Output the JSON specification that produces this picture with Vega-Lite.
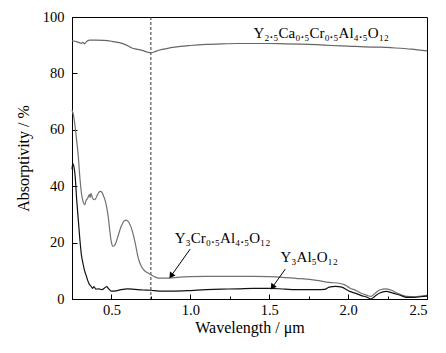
{
  "$schema": "https://vega.github.io/schema/vega-lite/v6.json",
  "width": 355,
  "height": 282,
  "autosize": {"type": "none"},
  "padding": {"left": 72, "top": 17, "right": 19, "bottom": 54},
  "background": "white",
  "config": {
    "view": {"stroke": "#000", "strokeWidth": 1},
    "font": "Liberation Serif",
    "axis": {
      "grid": false,
      "domainColor": "#000",
      "tickColor": "#000",
      "labelColor": "#000",
      "titleColor": "#000",
      "labelFont": "Liberation Serif",
      "titleFont": "Liberation Serif",
      "labelFontSize": 14.5,
      "titleFontSize": 16,
      "titleFontWeight": "normal"
    }
  },
  "datasets": {
    "spectra": [
      {"wl": 0.25, "a": 91.5, "s": "Ca"}, {"wl": 0.27, "a": 91.4, "s": "Ca"}, {"wl": 0.29, "a": 91.0, "s": "Ca"}, {"wl": 0.31, "a": 90.7, "s": "Ca"}, {"wl": 0.32, "a": 91.0, "s": "Ca"}, {"wl": 0.33, "a": 90.5, "s": "Ca"}, {"wl": 0.34, "a": 91.2, "s": "Ca"}, {"wl": 0.36, "a": 91.8, "s": "Ca"}, {"wl": 0.40, "a": 91.8, "s": "Ca"}, {"wl": 0.45, "a": 91.7, "s": "Ca"}, {"wl": 0.50, "a": 91.4, "s": "Ca"}, {"wl": 0.55, "a": 90.9, "s": "Ca"}, {"wl": 0.58, "a": 90.4, "s": "Ca"}, {"wl": 0.61, "a": 89.6, "s": "Ca"}, {"wl": 0.63, "a": 89.0, "s": "Ca"}, {"wl": 0.66, "a": 88.6, "s": "Ca"}, {"wl": 0.70, "a": 88.1, "s": "Ca"}, {"wl": 0.73, "a": 87.5, "s": "Ca"}, {"wl": 0.75, "a": 87.3, "s": "Ca"}, {"wl": 0.77, "a": 87.6, "s": "Ca"}, {"wl": 0.80, "a": 88.2, "s": "Ca"}, {"wl": 0.85, "a": 88.8, "s": "Ca"}, {"wl": 0.90, "a": 89.3, "s": "Ca"}, {"wl": 1.0, "a": 89.9, "s": "Ca"}, {"wl": 1.1, "a": 90.3, "s": "Ca"}, {"wl": 1.2, "a": 90.5, "s": "Ca"}, {"wl": 1.3, "a": 90.6, "s": "Ca"}, {"wl": 1.4, "a": 90.6, "s": "Ca"}, {"wl": 1.5, "a": 90.6, "s": "Ca"}, {"wl": 1.6, "a": 90.5, "s": "Ca"}, {"wl": 1.7, "a": 90.4, "s": "Ca"}, {"wl": 1.8, "a": 90.2, "s": "Ca"}, {"wl": 1.9, "a": 89.9, "s": "Ca"}, {"wl": 2.0, "a": 89.7, "s": "Ca"}, {"wl": 2.1, "a": 89.4, "s": "Ca"}, {"wl": 2.2, "a": 89.3, "s": "Ca"}, {"wl": 2.3, "a": 89.0, "s": "Ca"}, {"wl": 2.4, "a": 88.6, "s": "Ca"}, {"wl": 2.5, "a": 88.0, "s": "Ca"},

      {"wl": 0.25, "a": 67, "s": "Cr"}, {"wl": 0.26, "a": 65, "s": "Cr"}, {"wl": 0.27, "a": 61, "s": "Cr"}, {"wl": 0.28, "a": 56, "s": "Cr"}, {"wl": 0.29, "a": 50.5, "s": "Cr"}, {"wl": 0.30, "a": 43, "s": "Cr"}, {"wl": 0.31, "a": 37.5, "s": "Cr"}, {"wl": 0.32, "a": 34.5, "s": "Cr"}, {"wl": 0.33, "a": 33.4, "s": "Cr"}, {"wl": 0.34, "a": 35, "s": "Cr"}, {"wl": 0.35, "a": 35.8, "s": "Cr"}, {"wl": 0.36, "a": 37, "s": "Cr"}, {"wl": 0.365, "a": 36, "s": "Cr"}, {"wl": 0.37, "a": 37.5, "s": "Cr"}, {"wl": 0.38, "a": 35.8, "s": "Cr"}, {"wl": 0.39, "a": 35.2, "s": "Cr"}, {"wl": 0.40, "a": 35.6, "s": "Cr"}, {"wl": 0.41, "a": 36.8, "s": "Cr"}, {"wl": 0.42, "a": 37.8, "s": "Cr"}, {"wl": 0.43, "a": 38.2, "s": "Cr"}, {"wl": 0.44, "a": 37.8, "s": "Cr"}, {"wl": 0.45, "a": 36.5, "s": "Cr"}, {"wl": 0.46, "a": 35, "s": "Cr"}, {"wl": 0.47, "a": 32.5, "s": "Cr"}, {"wl": 0.48, "a": 29, "s": "Cr"}, {"wl": 0.49, "a": 24, "s": "Cr"}, {"wl": 0.50, "a": 20, "s": "Cr"}, {"wl": 0.51, "a": 18.7, "s": "Cr"}, {"wl": 0.52, "a": 19, "s": "Cr"}, {"wl": 0.54, "a": 22, "s": "Cr"}, {"wl": 0.56, "a": 25.5, "s": "Cr"}, {"wl": 0.58, "a": 27.6, "s": "Cr"}, {"wl": 0.595, "a": 28, "s": "Cr"}, {"wl": 0.61, "a": 27.2, "s": "Cr"}, {"wl": 0.63, "a": 24.5, "s": "Cr"}, {"wl": 0.65, "a": 20, "s": "Cr"}, {"wl": 0.67, "a": 14.5, "s": "Cr"}, {"wl": 0.69, "a": 11.5, "s": "Cr"}, {"wl": 0.71, "a": 10, "s": "Cr"}, {"wl": 0.73, "a": 9.3, "s": "Cr"}, {"wl": 0.75, "a": 8.6, "s": "Cr"}, {"wl": 0.77, "a": 8.0, "s": "Cr"}, {"wl": 0.80, "a": 7.4, "s": "Cr"}, {"wl": 0.85, "a": 7.4, "s": "Cr"}, {"wl": 0.90, "a": 7.6, "s": "Cr"}, {"wl": 1.0, "a": 7.9, "s": "Cr"}, {"wl": 1.1, "a": 8.0, "s": "Cr"}, {"wl": 1.2, "a": 8.0, "s": "Cr"}, {"wl": 1.3, "a": 8.0, "s": "Cr"}, {"wl": 1.4, "a": 8.0, "s": "Cr"}, {"wl": 1.5, "a": 7.9, "s": "Cr"}, {"wl": 1.6, "a": 7.6, "s": "Cr"}, {"wl": 1.7, "a": 7.2, "s": "Cr"}, {"wl": 1.8, "a": 6.6, "s": "Cr"}, {"wl": 1.88, "a": 5.9, "s": "Cr"}, {"wl": 1.95, "a": 5.5, "s": "Cr"}, {"wl": 1.98, "a": 5.0, "s": "Cr"}, {"wl": 2.01, "a": 3.9, "s": "Cr"}, {"wl": 2.05, "a": 3.0, "s": "Cr"}, {"wl": 2.08, "a": 2.1, "s": "Cr"}, {"wl": 2.12, "a": 1.3, "s": "Cr"}, {"wl": 2.145, "a": 0.9, "s": "Cr"}, {"wl": 2.17, "a": 2.0, "s": "Cr"}, {"wl": 2.2, "a": 3.2, "s": "Cr"}, {"wl": 2.24, "a": 3.6, "s": "Cr"}, {"wl": 2.28, "a": 3.0, "s": "Cr"}, {"wl": 2.31, "a": 2.1, "s": "Cr"}, {"wl": 2.34, "a": 1.4, "s": "Cr"}, {"wl": 2.37, "a": 0.9, "s": "Cr"}, {"wl": 2.42, "a": 0.8, "s": "Cr"}, {"wl": 2.46, "a": 1.0, "s": "Cr"}, {"wl": 2.5, "a": 1.3, "s": "Cr"},

      {"wl": 0.25, "a": 46, "s": "YAG"}, {"wl": 0.255, "a": 48, "s": "YAG"}, {"wl": 0.26, "a": 47.5, "s": "YAG"}, {"wl": 0.27, "a": 43.5, "s": "YAG"}, {"wl": 0.28, "a": 35, "s": "YAG"}, {"wl": 0.29, "a": 28, "s": "YAG"}, {"wl": 0.30, "a": 21, "s": "YAG"}, {"wl": 0.31, "a": 15.5, "s": "YAG"}, {"wl": 0.32, "a": 12.5, "s": "YAG"}, {"wl": 0.33, "a": 10, "s": "YAG"}, {"wl": 0.34, "a": 8.3, "s": "YAG"}, {"wl": 0.35, "a": 6.5, "s": "YAG"}, {"wl": 0.36, "a": 5.2, "s": "YAG"}, {"wl": 0.37, "a": 4.6, "s": "YAG"}, {"wl": 0.38, "a": 3.8, "s": "YAG"}, {"wl": 0.39, "a": 4.4, "s": "YAG"}, {"wl": 0.40, "a": 3.5, "s": "YAG"}, {"wl": 0.42, "a": 3.6, "s": "YAG"}, {"wl": 0.44, "a": 3.3, "s": "YAG"}, {"wl": 0.46, "a": 4.1, "s": "YAG"}, {"wl": 0.47, "a": 4.4, "s": "YAG"}, {"wl": 0.48, "a": 3.8, "s": "YAG"}, {"wl": 0.50, "a": 2.8, "s": "YAG"}, {"wl": 0.53, "a": 2.9, "s": "YAG"}, {"wl": 0.56, "a": 3.3, "s": "YAG"}, {"wl": 0.60, "a": 3.6, "s": "YAG"}, {"wl": 0.65, "a": 3.4, "s": "YAG"}, {"wl": 0.70, "a": 3.2, "s": "YAG"}, {"wl": 0.75, "a": 3.1, "s": "YAG"}, {"wl": 0.80, "a": 2.8, "s": "YAG"}, {"wl": 0.90, "a": 2.8, "s": "YAG"}, {"wl": 1.0, "a": 3.0, "s": "YAG"}, {"wl": 1.1, "a": 3.3, "s": "YAG"}, {"wl": 1.2, "a": 3.5, "s": "YAG"}, {"wl": 1.3, "a": 3.6, "s": "YAG"}, {"wl": 1.4, "a": 3.8, "s": "YAG"}, {"wl": 1.5, "a": 3.8, "s": "YAG"}, {"wl": 1.6, "a": 3.5, "s": "YAG"}, {"wl": 1.7, "a": 3.3, "s": "YAG"}, {"wl": 1.8, "a": 3.3, "s": "YAG"}, {"wl": 1.85, "a": 3.4, "s": "YAG"}, {"wl": 1.88, "a": 4.2, "s": "YAG"}, {"wl": 1.92, "a": 4.5, "s": "YAG"}, {"wl": 1.96, "a": 4.2, "s": "YAG"}, {"wl": 1.99, "a": 3.3, "s": "YAG"}, {"wl": 2.01, "a": 2.7, "s": "YAG"}, {"wl": 2.05, "a": 2.0, "s": "YAG"}, {"wl": 2.08, "a": 1.3, "s": "YAG"}, {"wl": 2.12, "a": 0.6, "s": "YAG"}, {"wl": 2.145, "a": 0.0, "s": "YAG"}, {"wl": 2.17, "a": 1.0, "s": "YAG"}, {"wl": 2.2, "a": 2.1, "s": "YAG"}, {"wl": 2.24, "a": 2.7, "s": "YAG"}, {"wl": 2.28, "a": 2.2, "s": "YAG"}, {"wl": 2.31, "a": 1.7, "s": "YAG"}, {"wl": 2.34, "a": 1.1, "s": "YAG"}, {"wl": 2.37, "a": 0.6, "s": "YAG"}, {"wl": 2.42, "a": 0.6, "s": "YAG"}, {"wl": 2.46, "a": 0.8, "s": "YAG"}, {"wl": 2.5, "a": 1.0, "s": "YAG"}
    ],
    "labels": [
      {"wl": 1.83, "a": 94.3, "label": "Y₂.₅Ca₀.₅Cr₀.₅Al₄.₅O₁₂"},
      {"wl": 1.205, "a": 21.7, "label": "Y₃Cr₀.₅Al₄.₅O₁₂"},
      {"wl": 1.754, "a": 15, "label": "Y₃Al₅O₁₂"}
    ],
    "arrows": [
      {"wl": 0.999, "a": 17.7, "wl2": 0.878, "a2": 8.2},
      {"wl": 1.602, "a": 10.6, "wl2": 1.52, "a2": 4.2}
    ]
  },
  "layer": [
    {
      "data": {"values": [{"wl": 0.75}]},
      "mark": {"type": "rule", "strokeDash": [3, 2], "stroke": "#333", "strokeWidth": 1},
      "encoding": {
        "x": {"field": "wl", "type": "quantitative", "scale": {"domain": [0.25, 2.5]}}
      }
    },
    {
      "data": {"name": "spectra"},
      "mark": {"type": "line", "strokeWidth": 1.2, "interpolate": "monotone"},
      "encoding": {
        "x": {
          "field": "wl", "type": "quantitative",
          "scale": {"domain": [0.25, 2.5], "nice": false, "zero": false},
          "axis": {
            "title": "Wavelength / μm",
            "values": [0.5, 0.75, 1.0, 1.25, 1.5, 1.75, 2.0, 2.25, 2.5],
            "labelExpr": "datum.value % 0.5 === 0 ? format(datum.value, '.1f') : ''",
            "tickSize": {"condition": {"test": "datum.value % 0.5 === 0", "value": -5}, "value": -3},
            "labelPadding": 9,
            "titlePadding": 3
          }
        },
        "y": {
          "field": "a", "type": "quantitative",
          "scale": {"domain": [0, 100], "nice": false},
          "axis": {
            "title": "Absorptivity / %",
            "values": [0, 10, 20, 30, 40, 50, 60, 70, 80, 90, 100],
            "labelExpr": "datum.value % 20 === 0 ? format(datum.value, 'd') : ''",
            "tickSize": {"condition": {"test": "datum.value % 20 === 0", "value": -5}, "value": -3},
            "labelPadding": 13,
            "titlePadding": 11
          }
        },
        "color": {
          "field": "s", "type": "nominal",
          "scale": {"domain": ["Ca", "Cr", "YAG"], "range": ["#666666", "#707070", "#111111"]},
          "legend": null
        },
        "detail": {"field": "s"}
      }
    },
    {
      "data": {"name": "arrows"},
      "mark": {"type": "rule", "stroke": "#000", "strokeWidth": 1},
      "encoding": {
        "x": {"field": "wl", "type": "quantitative"},
        "y": {"field": "a", "type": "quantitative"},
        "x2": {"field": "wl2"},
        "y2": {"field": "a2"}
      }
    },
    {
      "data": {"name": "arrows"},
      "mark": {"type": "point", "shape": "triangle-up", "filled": true, "color": "#000", "size": 45, "angle": 215, "opacity": 1},
      "encoding": {
        "x": {"field": "wl2", "type": "quantitative"},
        "y": {"field": "a2", "type": "quantitative"}
      }
    },
    {
      "data": {"name": "labels"},
      "mark": {"type": "text", "font": "Liberation Serif", "fontSize": 15, "color": "#000", "align": "center", "baseline": "middle"},
      "encoding": {
        "x": {"field": "wl", "type": "quantitative"},
        "y": {"field": "a", "type": "quantitative"},
        "text": {"field": "label"}
      }
    }
  ]
}
